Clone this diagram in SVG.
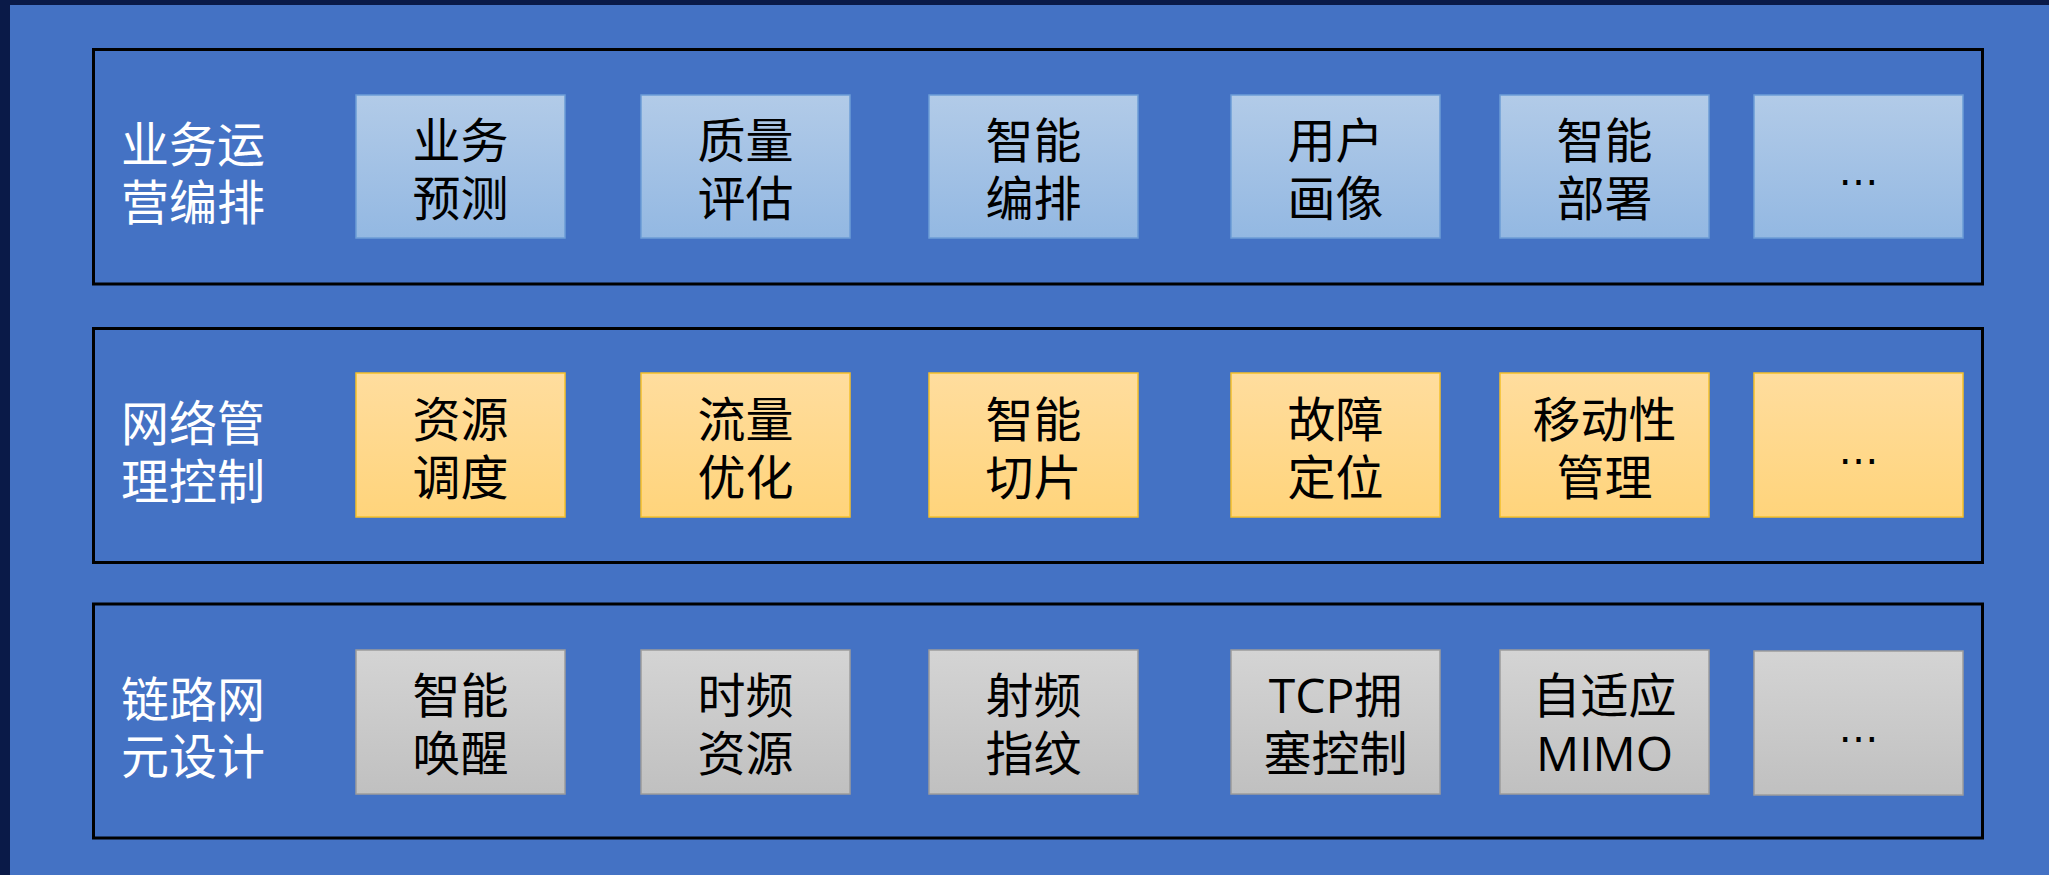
<svg xmlns="http://www.w3.org/2000/svg" width="2049" height="875" viewBox="0 0 2049 875">
<defs>
<linearGradient id="gBlue" x1="0" y1="0" x2="0" y2="1"><stop offset="0" stop-color="#b2cbe8"/><stop offset="1" stop-color="#93b8e2"/></linearGradient>
<linearGradient id="gGold" x1="0" y1="0" x2="0" y2="1"><stop offset="0" stop-color="#ffdd9e"/><stop offset="1" stop-color="#ffd47b"/></linearGradient>
<linearGradient id="gGray" x1="0" y1="0" x2="0" y2="1"><stop offset="0" stop-color="#d4d4d4"/><stop offset="1" stop-color="#c0c0c0"/></linearGradient>
<style>
.panel{fill:none;stroke:#000;stroke-width:3}
.b1{fill:url(#gBlue);stroke:#6c9dd6;stroke-width:1.5}
.b2{fill:url(#gGold);stroke:#f5c02a;stroke-width:1.5}
.b3{fill:url(#gGray);stroke:#9c9c9c;stroke-width:1.5}
.lbl{font-family:"Noto Sans CJK SC",sans-serif;font-size:48px;fill:#fff}
.t{font-family:"Open Sans","Noto Sans CJK SC",sans-serif;font-size:48px;fill:#000;text-anchor:middle}
.dots{font-family:"DejaVu Sans",sans-serif;font-size:40px;fill:#000;text-anchor:middle}
</style>
</defs>
<rect x="0" y="0" width="2049" height="875" fill="#0a1a48"/>
<rect x="10" y="5" width="2039" height="870" fill="#4472c4"/>

<g id="layer-business">
<rect class="panel" x="93.5" y="49.5" width="1889" height="234.5"/>
<text class="lbl" x="121"><tspan x="121" y="162">业务运</tspan><tspan x="121" y="220">营编排</tspan></text>
</g>
<g id="layer-network">
<rect class="panel" x="93.5" y="328.5" width="1889" height="234"/>
<text class="lbl" x="121"><tspan x="121" y="441">网络管</tspan><tspan x="121" y="499">理控制</tspan></text>
</g>
<g id="layer-link">
<rect class="panel" x="93.5" y="604" width="1889" height="234"/>
<text class="lbl" x="121"><tspan x="121" y="717">链路网</tspan><tspan x="121" y="774">元设计</tspan></text>
</g>

<g id="n-yewu-yuce"><rect class="b1" x="356" y="95" width="209" height="143"/><text class="t"><tspan x="460.5" y="158">业务</tspan><tspan x="460.5" y="216">预测</tspan></text></g>
<g id="n-zhiliang-pinggu"><rect class="b1" x="641" y="95" width="209" height="143"/><text class="t"><tspan x="745.5" y="158">质量</tspan><tspan x="745.5" y="216">评估</tspan></text></g>
<g id="n-zhineng-bianpai"><rect class="b1" x="929" y="95" width="209" height="143"/><text class="t"><tspan x="1033.5" y="158">智能</tspan><tspan x="1033.5" y="216">编排</tspan></text></g>
<g id="n-yonghu-huaxiang"><rect class="b1" x="1231" y="95" width="209" height="143"/><text class="t"><tspan x="1335.5" y="158">用户</tspan><tspan x="1335.5" y="216">画像</tspan></text></g>
<g id="n-zhineng-bushu"><rect class="b1" x="1500" y="95" width="209" height="143"/><text class="t"><tspan x="1604.5" y="158">智能</tspan><tspan x="1604.5" y="216">部署</tspan></text></g>
<g id="n-top-more"><rect class="b1" x="1754" y="95" width="209" height="143"/><text class="dots" x="1858.5" y="185">…</text></g>

<g id="n-ziyuan-diaodu"><rect class="b2" x="356" y="373" width="209" height="144"/><text class="t"><tspan x="460.5" y="437">资源</tspan><tspan x="460.5" y="495">调度</tspan></text></g>
<g id="n-liuliang-youhua"><rect class="b2" x="641" y="373" width="209" height="144"/><text class="t"><tspan x="745.5" y="437">流量</tspan><tspan x="745.5" y="495">优化</tspan></text></g>
<g id="n-zhineng-qiepian"><rect class="b2" x="929" y="373" width="209" height="144"/><text class="t"><tspan x="1033.5" y="437">智能</tspan><tspan x="1033.5" y="495">切片</tspan></text></g>
<g id="n-guzhang-dingwei"><rect class="b2" x="1231" y="373" width="209" height="144"/><text class="t"><tspan x="1335.5" y="437">故障</tspan><tspan x="1335.5" y="495">定位</tspan></text></g>
<g id="n-yidongxing-guanli"><rect class="b2" x="1500" y="373" width="209" height="144"/><text class="t"><tspan x="1604.5" y="437">移动性</tspan><tspan x="1604.5" y="495">管理</tspan></text></g>
<g id="n-mid-more"><rect class="b2" x="1754" y="373" width="209" height="144"/><text class="dots" x="1858.5" y="464">…</text></g>

<g id="n-zhineng-huanxing"><rect class="b3" x="356" y="650" width="209" height="144"/><text class="t"><tspan x="460.5" y="713">智能</tspan><tspan x="460.5" y="771">唤醒</tspan></text></g>
<g id="n-shipin-ziyuan"><rect class="b3" x="641" y="650" width="209" height="144"/><text class="t"><tspan x="745.5" y="713">时频</tspan><tspan x="745.5" y="771">资源</tspan></text></g>
<g id="n-shepin-zhiwen"><rect class="b3" x="929" y="650" width="209" height="144"/><text class="t"><tspan x="1033.5" y="713">射频</tspan><tspan x="1033.5" y="771">指纹</tspan></text></g>
<g id="n-tcp"><rect class="b3" x="1231" y="650" width="209" height="144"/><text class="t"><tspan x="1335.5" y="713">TCP拥</tspan><tspan x="1335.5" y="771">塞控制</tspan></text></g>
<g id="n-mimo"><rect class="b3" x="1500" y="650" width="209" height="144"/><text class="t"><tspan x="1604.5" y="713">自适应</tspan><tspan x="1604.5" y="771">MIMO</tspan></text></g>
<g id="n-bot-more"><rect class="b3" x="1754" y="651" width="209" height="144"/><text class="dots" x="1858.5" y="742">…</text></g>

<g id="connectors"></g>
</svg>
